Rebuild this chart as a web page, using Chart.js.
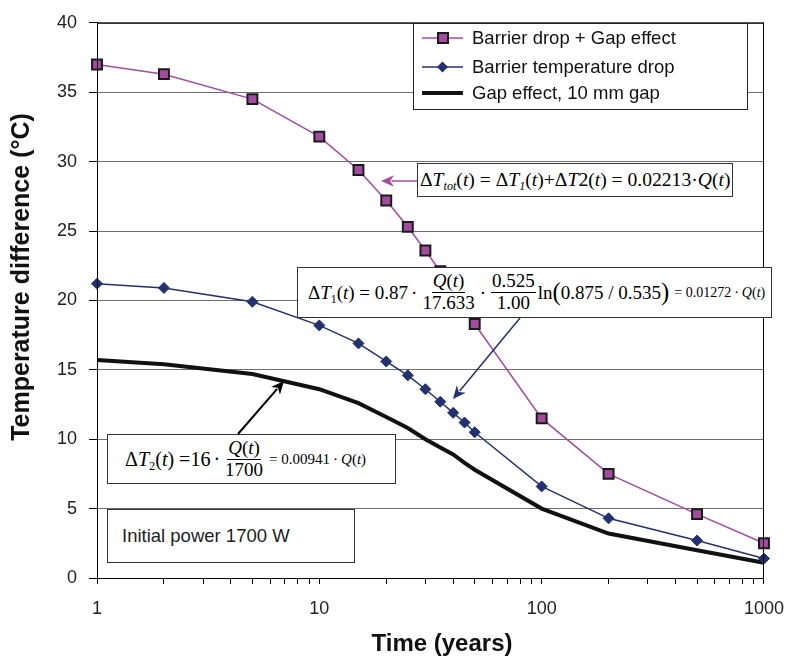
<!DOCTYPE html>
<html>
<head>
<meta charset="utf-8">
<script src="https://cdn.jsdelivr.net/npm/chart.js@4.4.1/dist/chart.umd.min.js"></script>
<style>
  html, body { margin: 0; padding: 0; background: #fff; }
  #wrap { position: relative; width: 798px; height: 660px; }
  #chart { position: absolute; left: 0; top: 0; }
  .box {
    position: absolute; background: #fff; border: 1px solid #333; box-sizing: border-box;
    display: flex; align-items: center; white-space: nowrap; color: #000;
    font-family: 'Liberation Serif', 'Times New Roman', serif;
  }
  .box i { font-style: italic; }
  .box sub { font-size: 62%; vertical-align: -0.35em; line-height: 0; }
  .frac { display: inline-flex; flex-direction: column; align-items: center; vertical-align: middle; line-height: 1.08; margin: 0 2px; }
  .frac > span:first-child { border-bottom: 1px solid #000; padding: 0 1px; }
  .small { font-size: 15px; }
  .big { font-size: 130%; vertical-align: -0.06em; line-height: 0; }
  .dot { margin: 0 3px; }
</style>
</head>
<body>
<div id="wrap">
  <canvas id="chart" width="798" height="660"></canvas>

  <div class="box" style="left:417px;top:163px;width:316px;height:34px;padding-left:2px;font-size:19.6px;">
    <span>Δ<i>T</i><sub><i>tot</i></sub>(<i>t</i>) = Δ<i>T</i><sub><i>1</i></sub>(<i>t</i>)+Δ<i>T</i>2(<i>t</i>) = 0.02213·<i>Q</i>(<i>t</i>)</span>
  </div>

  <div class="box" style="left:297px;top:267px;width:475px;height:51px;padding-left:10px;font-size:19px;">
    <span>Δ<i>T</i><sub>1</sub>(<i>t</i>) = 0.87<span class="dot">·</span></span>
    <span class="frac"><span><i>Q</i>(<i>t</i>)</span><span>17.633</span></span>
    <span class="dot">·</span>
    <span class="frac"><span>0.525</span><span>1.00</span></span>
    <span>ln<span class="big">(</span>0.875 / 0.535<span class="big">)</span></span>
    <span class="small" style="margin-left:5px;font-size:14px;">= 0.01272<span class="dot">·</span><i>Q</i>(<i>t</i>)</span>
  </div>

  <div class="box" style="left:107px;top:434px;width:289px;height:50px;padding-left:17px;font-size:20px;">
    <span>Δ<i>T</i><sub>2</sub>(<i>t</i>) =16<span class="dot">·</span></span>
    <span class="frac" style="font-size:19px;"><span><i>Q</i>(<i>t</i>)</span><span>1700</span></span>
    <span class="small" style="margin-left:4px;">= 0.00941<span class="dot">·</span><i>Q</i>(<i>t</i>)</span>
  </div>

  <div class="box" style="left:107px;top:509px;width:248px;height:54px;padding-left:14px;font-family:'Liberation Sans', Arial, sans-serif;font-size:18.5px;color:#222;">
    Initial power 1700 W
  </div>
</div>

<script>
/* ─── Data ──────────────────────────────────────────────────────────────── */
const years       = [1, 2, 5, 10, 15, 20, 25, 30, 35, 40, 45, 50, 100, 200, 500, 1000];
const totalDrop   = [37.0, 36.3, 34.5, 31.8, 29.4, 27.2, 25.3, 23.6, 22.1, 20.8, 19.6, 18.3, 11.5, 7.5, 4.6, 2.5];
const barrierDrop = [21.2, 20.9, 19.9, 18.2, 16.9, 15.6, 14.6, 13.6, 12.7, 11.9, 11.2, 10.5, 6.6, 4.3, 2.7, 1.4];
const gapDrop     = [15.7, 15.4, 14.7, 13.6, 12.6, 11.6, 10.8, 10.0, 9.4, 8.9, 8.3, 7.8, 5.0, 3.2, 2.0, 1.1];

const seriesNames = ['Barrier drop + Gap effect', 'Barrier temperature drop', 'Gap effect, 10 mm gap'];
const xTicks      = [1, 2, 3, 4, 5, 6, 7, 8, 9, 10, 20, 30, 40, 50, 60, 70, 80, 90,
                     100, 200, 300, 400, 500, 600, 700, 800, 900, 1000];
const xTickLabels = [1, 10, 100, 1000];
const yMin = 0, yMax = 40, yStep = 5;

const FONT   = "'Liberation Sans', Arial, sans-serif";
const PURPLE = '#A24C9F';
const NAVY   = '#243170';

const toXY = vals => years.map((t, i) => ({ x: t, y: vals[i] }));

/* ─── Decorations: frame, titles, legend, arrows ───────────────────────── */
function arrow(ctx, x0, y0, x1, y1, color, width, head) {
  const a = Math.atan2(y1 - y0, x1 - x0);
  const c = Math.cos(a), s = Math.sin(a);
  ctx.save();
  ctx.strokeStyle = color; ctx.fillStyle = color; ctx.lineWidth = width;
  ctx.beginPath();
  ctx.moveTo(x0, y0);
  ctx.lineTo(x1 - c * head * 0.8, y1 - s * head * 0.8);
  ctx.stroke();
  ctx.beginPath();
  ctx.moveTo(x1, y1);
  ctx.lineTo(x1 - head * c + head * 0.45 * s, y1 - head * s - head * 0.45 * c);
  ctx.lineTo(x1 - head * 0.7 * c, y1 - head * 0.7 * s);
  ctx.lineTo(x1 - head * c - head * 0.45 * s, y1 - head * s + head * 0.45 * c);
  ctx.closePath();
  ctx.fill();
  ctx.restore();
}

const decor = {
  id: 'decor',
  afterDraw(chart) {
    const { ctx, chartArea: a } = chart;
    ctx.save();

    // plot frame
    ctx.strokeStyle = '#000'; ctx.lineWidth = 1;
    ctx.strokeRect(a.left + 0.5, a.top + 0.5, a.right - a.left - 1, a.bottom - a.top);

    // axis titles
    ctx.fillStyle = '#111';
    ctx.textAlign = 'center'; ctx.textBaseline = 'middle';
    ctx.font = `bold 24px ${FONT}`;
    ctx.fillText('Time (years)', 442, 644);
    ctx.save();
    ctx.translate(22, 277);
    ctx.rotate(-Math.PI / 2);
    ctx.font = `bold 25px ${FONT}`;
    ctx.fillText('Temperature difference (°C)', 0, 0);
    ctx.restore();

    // legend
    ctx.fillStyle = '#fff';
    ctx.fillRect(413, 23, 334, 86);
    ctx.strokeStyle = '#222'; ctx.lineWidth = 1;
    ctx.strokeRect(413.5, 23.5, 334, 86);
    const rows = [38, 67, 93];
    chart.data.datasets.forEach((ds, i) => {
      const y = rows[i];
      ctx.strokeStyle = ds.borderColor; ctx.lineWidth = ds.borderWidth;
      ctx.beginPath(); ctx.moveTo(422, y); ctx.lineTo(463, y); ctx.stroke();
      if (ds.pointStyle === 'rect') {
        ctx.fillStyle = ds.pointBackgroundColor; ctx.strokeStyle = ds.pointBorderColor; ctx.lineWidth = 2;
        ctx.fillRect(438, y - 5, 10, 10); ctx.strokeRect(438, y - 5, 10, 10);
      } else if (ds.pointStyle === 'rectRot') {
        ctx.fillStyle = ds.pointBackgroundColor;
        ctx.beginPath();
        ctx.moveTo(442.5, y - 5.5); ctx.lineTo(448, y); ctx.lineTo(442.5, y + 5.5); ctx.lineTo(437, y);
        ctx.closePath(); ctx.fill();
      }
      ctx.fillStyle = '#111';
      ctx.textAlign = 'left'; ctx.textBaseline = 'middle';
      ctx.font = `18.5px ${FONT}`;
      ctx.fillText(ds.label, 472, y + 1);
    });

    // arrows from the formula boxes to the curves
    arrow(ctx, 417, 181, 381, 181, PURPLE, 1.5, 13);
    arrow(ctx, 520, 318, 453, 399, NAVY, 1.5, 13);
    arrow(ctx, 238, 434, 284, 381, '#000', 2, 13);

    ctx.restore();
  }
};

/* ─── Chart ────────────────────────────────────────────────────────────── */
new Chart(document.getElementById('chart'), {
  type: 'line',
  data: {
    datasets: [
      {
        label: seriesNames[0],
        data: toXY(totalDrop),
        borderColor: PURPLE,
        borderWidth: 1.5,
        pointStyle: 'rect',
        pointRadius: 7,
        pointBackgroundColor: PURPLE,
        pointBorderColor: '#1a1a1a',
        pointBorderWidth: 2,
        tension: 0,
        clip: false
      },
      {
        label: seriesNames[1],
        data: toXY(barrierDrop),
        borderColor: NAVY,
        borderWidth: 1.5,
        pointStyle: 'rectRot',
        pointRadius: 5.5,
        pointBackgroundColor: NAVY,
        pointBorderColor: NAVY,
        pointBorderWidth: 1,
        tension: 0,
        clip: false
      },
      {
        label: seriesNames[2],
        data: toXY(gapDrop),
        borderColor: '#111',
        borderWidth: 4,
        pointRadius: 0,
        tension: 0,
        clip: false
      }
    ]
  },
  options: {
    responsive: false,
    animation: false,
    layout: { padding: { top: 19, right: 26, left: 0, bottom: 0 } },
    plugins: {
      legend: { display: false },
      tooltip: { enabled: false }
    },
    scales: {
      x: {
        type: 'logarithmic',
        min: 1,
        max: 1000,
        afterBuildTicks: s => { s.ticks = xTicks.map(v => ({ value: v })); },
        afterFit: s => { s.height = 82; },
        grid: { drawOnChartArea: false, drawTicks: true, tickLength: 6, color: '#000' },
        border: { display: true, color: '#000', width: 1 },
        ticks: {
          autoSkip: false,
          maxRotation: 0,
          padding: 14,
          color: '#222',
          font: { family: FONT, size: 18 },
          callback: v => (xTickLabels.includes(v) ? String(v) : '')
        }
      },
      y: {
        min: yMin,
        max: yMax,
        afterFit: s => { s.width = 97; },
        grid: { color: '#6e6e6e', drawTicks: true, tickLength: 8, tickColor: '#000' },
        border: { display: true, color: '#000', width: 1 },
        ticks: {
          stepSize: yStep,
          padding: 12,
          color: '#222',
          font: { family: FONT, size: 18 }
        }
      }
    }
  },
  plugins: [decor]
});
</script>
</body>
</html>
